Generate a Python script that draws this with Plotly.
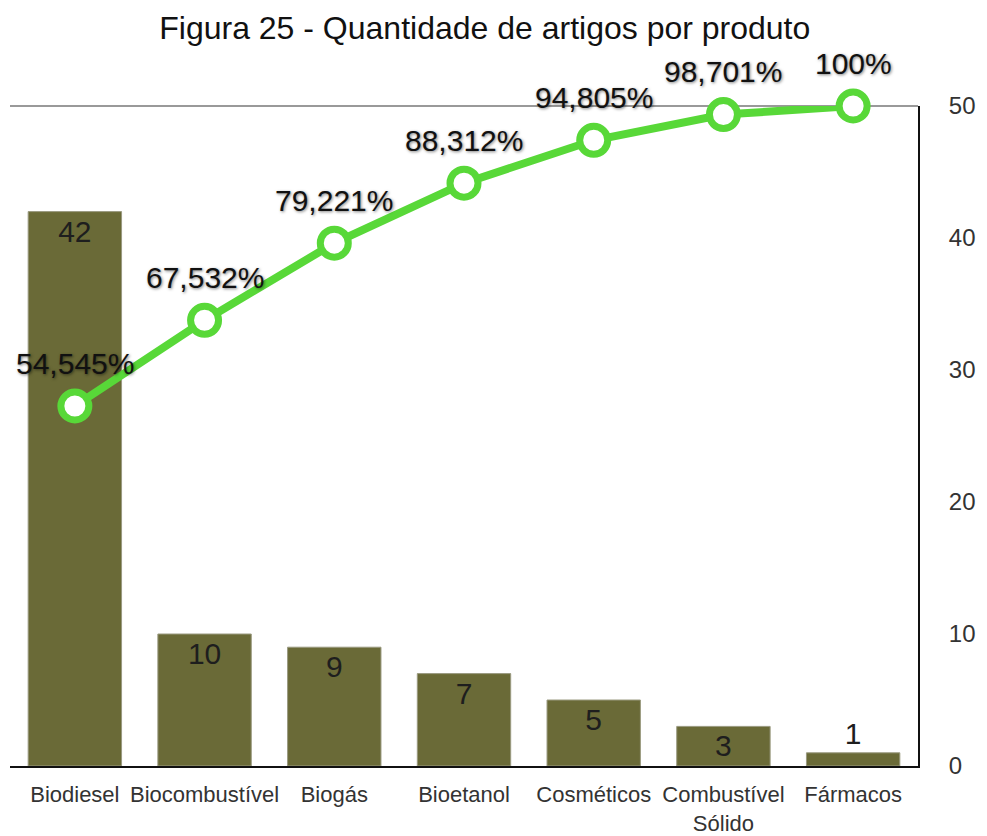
import plotly.graph_objects as go

produtos = ["Biodiesel", "Biocombustível", "Biogás", "Bioetanol", "Cosméticos",
            "Combustível<br>Sólido", "Fármacos"]
artigos = [42, 10, 9, 7, 5, 3, 1]
acumulado = [54.545, 67.532, 79.221, 88.312, 94.805, 98.701, 100]
acumulado_txt = ["54,545%", "67,532%", "79,221%", "88,312%", "94,805%", "98,701%", "100%"]

bar_clr = "#6a6a37"
line_clr = "#58d838"
font = "Liberation Sans, Arial, sans-serif"

fig = go.Figure()
fig.add_trace(go.Bar(
    x = produtos,
    y = artigos,
    text = [str(v) for v in artigos],
    textposition = "auto",
    insidetextanchor = "end",
    constraintext = "none",
    textangle = 0,
    textfont = dict(size = 30, color = "#1e1e1e", family = font),
    marker = dict(color = bar_clr, line = dict(color = "#9a9a80", width = 1)),
    width = 0.72,
    yaxis = "y",
    cliponaxis = False
))
fig.add_trace(go.Scatter(
    x = produtos,
    y = acumulado,
    mode = "lines+markers",
    line = dict(color = line_clr, width = 8),
    marker = dict(size = 28, color = "white", line = dict(color = line_clr, width = 7)),
    yaxis = "y2",
    cliponaxis = False
))

# percentage labels above the markers
for p, v, t in zip(produtos, acumulado, acumulado_txt):
    fig.add_annotation(
        x = p, y = v, xref = "x", yref = "y2",
        text = t, showarrow = False,
        yshift = 43, yanchor = "middle",
        font = dict(size = 30, color = "#111111", family = font,
                    shadow = "1px 1px 3px rgba(0,0,0,0.5)"))

# body has an 8px default margin, so the figure is a bit smaller than the window
fig.update_layout(
    width = 979,
    height = 828,
    paper_bgcolor = "white",
    plot_bgcolor = "white",
    showlegend = False,
    margin = dict(l = 2, r = 69, t = 98, b = 70, autoexpand = False),
    title = dict(text = "Figura 25 - Quantidade de artigos por produto",
                 x = 0.487, xref = "container", xanchor = "center",
                 y = 0.976, yref = "container", yanchor = "middle",
                 font = dict(size = 32, color = "#111111", family = font)),
    xaxis = dict(showgrid = False, showline = True, linecolor = "#111111", linewidth = 2,
                 tickfont = dict(size = 22, color = "#333333", family = font),
                 ticks = "", tickangle = 0, automargin = False, zeroline = False,
                 ticklabelstandoff = 8),
    yaxis = dict(side = "right", range = [0, 50], dtick = 10, showgrid = False,
                 zeroline = False, showline = True, linecolor = "#111111", linewidth = 2,
                 ticks = "", ticklabelstandoff = 24, automargin = False,
                 tickfont = dict(size = 24, color = "#333333", family = font)),
    yaxis2 = dict(overlaying = "y", range = [0, 100], visible = False),
)
# gray top border
fig.add_shape(type = "line", xref = "paper", yref = "paper", x0 = 0, x1 = 1, y0 = 1, y1 = 1,
              line = dict(color = "#999999", width = 2), layer = "below")

fig.write_html("out.html")
